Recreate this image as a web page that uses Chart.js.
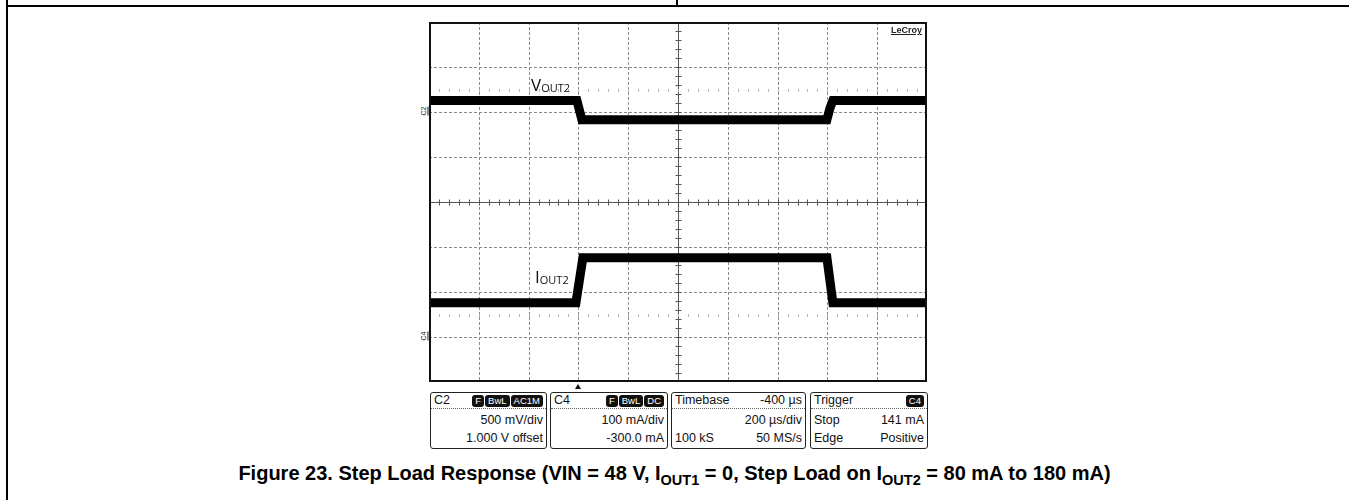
<!DOCTYPE html>
<html>
<head>
<meta charset="utf-8">
<script src="https://cdn.jsdelivr.net/npm/chart.js@4.4.0/dist/chart.umd.min.js"></script>
<style>
body{margin:0;background:#fff;font-family:"Liberation Sans",Arial,sans-serif;}
#page{position:relative;width:1349px;height:500px;overflow:hidden;}
.ln{position:absolute;background:#000;}
#scope{position:absolute;left:429px;top:22px;width:498px;height:360px;}
.lbl{position:absolute;font-family:"Open Sans","Liberation Sans",sans-serif;font-size:17px;color:#111;line-height:1;}
.lbl sub{font-size:11px;vertical-align:baseline;position:relative;top:1px;}
.box{position:absolute;top:392px;height:57px;border:1.5px solid #222;border-radius:3px;font-size:12.5px;color:#111;box-sizing:border-box;}
.row{display:flex;justify-content:space-between;padding:0 3px;height:18px;line-height:18px;}
.row.h{border-bottom:1px dotted #666;height:15px;line-height:15px;margin-bottom:2px;}
.bd{display:inline-block;background:#111;color:#fff;font-size:9.5px;line-height:12px;padding:0 3px;border-radius:3px;margin-left:1px;vertical-align:middle;}
#cap{position:absolute;left:0;width:1349px;top:462px;line-height:22px;text-align:center;font-weight:bold;font-size:20px;}
#cap sub{font-size:14.5px;}
</style>
</head>
<body>
<div id="page">
  <div class="ln" style="left:6px;top:0;width:2px;height:500px"></div>
  <div class="ln" style="left:6px;top:5px;width:1343px;height:2px"></div>
  <div class="ln" style="left:676px;top:0;width:2px;height:6px"></div>

  <div id="scope"><canvas id="c" width="498" height="360"></canvas></div>

  <div class="lbl" style="left:531px;top:76px">V<sub>OUT2</sub></div>
  <div class="lbl" style="left:535px;top:268px">I<sub>OUT2</sub></div>
  <div style="position:absolute;left:891px;top:25px;font-size:9px;font-weight:bold;text-decoration:underline;color:#222">LeCroy</div>

  <div class="box" style="left:430px;width:117px">
    <div class="row h"><span>C2</span><span><span class="bd">F</span><span class="bd">BwL</span><span class="bd">AC1M</span></span></div>
    <div class="row"><span></span><span>500 mV/div</span></div>
    <div class="row"><span></span><span>1.000 V offset</span></div>
  </div>
  <div class="box" style="left:550px;width:118px">
    <div class="row h"><span>C4</span><span><span class="bd">F</span><span class="bd">BwL</span><span class="bd">DC</span></span></div>
    <div class="row"><span></span><span>100 mA/div</span></div>
    <div class="row"><span></span><span>-300.0 mA</span></div>
  </div>
  <div class="box" style="left:671px;width:135px">
    <div class="row h"><span>Timebase</span><span>-400 µs</span></div>
    <div class="row"><span></span><span>200 µs/div</span></div>
    <div class="row"><span>100 kS</span><span>50 MS/s</span></div>
  </div>
  <div class="box" style="left:810px;width:118px">
    <div class="row h"><span>Trigger</span><span><span class="bd">C4</span></span></div>
    <div class="row"><span>Stop</span><span>141 mA</span></div>
    <div class="row"><span>Edge</span><span>Positive</span></div>
  </div>

  <div id="cap">Figure 23. Step Load Response (VIN = 48 V, I<sub>OUT1</sub> = 0, Step Load on I<sub>OUT2</sub> = 80 mA to 180 mA)</div>
</div>

<script>
// time axis in µs, 200 µs/div, trigger at 0
const xGridUs = [-600, -400, -200, 0, 200, 400, 600, 800, 1000, 1200, 1400]
// C2 axis in mV, 500 mV/div, 1.000 V offset
const yGridMv = [-3000, -2500, -2000, -1500, -1000, -500, 0, 500, 1000]
// C4 axis in mA, 100 mA/div, -300 mA offset
const iAxisMa = [-100, 700]

const voutTime = [-600, -6, 4, 14, 998, 1010, 1022, 1400]
const voutMv   = [128, 128, 20, -85, -85, 40, 128, 128]

const ioutTime = [-600, -10, 18, 998, 1022, 1400]
const ioutMa   = [76, 76, 176, 176, 76, 76]

// reference marks
const triggerUs = 0
const c2LevelMv = 0
const c4LevelMa = 0

const toPts = (xs, ys) => xs.map((x, i) => ({x: x, y: ys[i]}))

const scopeGrid = {
  id: 'scopeGrid',
  beforeDatasetsDraw(chart) {
    const {ctx, chartArea: a, scales: {x, y}} = chart
    ctx.save()
    ctx.strokeStyle = '#8a8a8a'
    ctx.lineWidth = 1
    ctx.setLineDash([3, 2])
    xGridUs.slice(1, -1).forEach(v => {
      const px = Math.round(x.getPixelForValue(v)) + 0.5
      ctx.beginPath(); ctx.moveTo(px, a.top); ctx.lineTo(px, a.bottom); ctx.stroke()
    })
    yGridMv.slice(1, -1).forEach(v => {
      const py = Math.round(y.getPixelForValue(v)) + 0.5
      ctx.beginPath(); ctx.moveTo(a.left, py); ctx.lineTo(a.right, py); ctx.stroke()
    })
    ctx.setLineDash([])
    // centre cross with minor ticks
    const cx = Math.round(x.getPixelForValue(400)) + 0.5
    const cy = Math.round(y.getPixelForValue(-1000)) + 0.5
    ctx.strokeStyle = '#555'
    ctx.beginPath(); ctx.moveTo(a.left, cy); ctx.lineTo(a.right, cy); ctx.stroke()
    ctx.beginPath(); ctx.moveTo(cx, a.top); ctx.lineTo(cx, a.bottom); ctx.stroke()
    for (let t = -600; t <= 1400; t += 40) {
      const px = Math.round(x.getPixelForValue(t)) + 0.5
      ctx.beginPath(); ctx.moveTo(px, cy - 3); ctx.lineTo(px, cy + 3); ctx.stroke()
    }
    for (let m = -3000; m <= 1000; m += 100) {
      const py = Math.round(y.getPixelForValue(m)) + 0.5
      ctx.beginPath(); ctx.moveTo(cx - 3, py); ctx.lineTo(cx + 3, py); ctx.stroke()
    }
    // faint tick rows
    ctx.strokeStyle = '#b5b5b5'
    ;[250, -2250].forEach(m => {
      const py = Math.round(y.getPixelForValue(m)) + 0.5
      for (let t = -600; t <= 1400; t += 40) {
        const px = Math.round(x.getPixelForValue(t)) + 0.5
        ctx.beginPath(); ctx.moveTo(px, py - 1.5); ctx.lineTo(px, py + 1.5); ctx.stroke()
      }
    })
    ctx.restore()
  },
  afterDraw(chart) {
    const {ctx, chartArea: a} = chart
    ctx.save()
    ctx.strokeStyle = '#111'
    ctx.lineWidth = 2
    ctx.strokeRect(a.left + 1, a.top + 1, a.right - a.left - 2, a.bottom - a.top - 2)
    ctx.restore()
  }
}

const chart = new Chart(document.getElementById('c'), {
  type: 'line',
  data: {
    datasets: [{
      data: toPts(voutTime, voutMv),
      yAxisID: 'y',
      borderColor: '#000',
      borderWidth: 9,
      borderCapStyle: 'butt',
      pointRadius: 0,
      tension: 0
    }, {
      data: toPts(ioutTime, ioutMa),
      yAxisID: 'yi',
      borderColor: '#000',
      borderWidth: 9,
      borderCapStyle: 'butt',
      pointRadius: 0,
      tension: 0
    }]
  },
  options: {
    responsive: false,
    animation: false,
    layout: {padding: 0},
    plugins: {legend: {display: false}, tooltip: {enabled: false}},
    scales: {
      x: {type: 'linear', min: xGridUs[0], max: xGridUs[xGridUs.length - 1], display: false},
      y: {min: yGridMv[0], max: yGridMv[yGridMv.length - 1], display: false},
      yi: {min: iAxisMa[0], max: iAxisMa[1], display: false}
    }
  },
  plugins: [scopeGrid]
})

// channel markers and trigger marker outside the graticule
const page = document.getElementById('page')
function marker(txt, py) {
  const d = document.createElement('div')
  d.style.cssText = 'position:absolute;left:420px;font-size:7px;line-height:7px;transform:rotate(-90deg);transform-origin:center;color:#222;border-bottom:1px solid #222'
  d.style.top = (22 + py - 5) + 'px'
  d.textContent = txt
  page.appendChild(d)
}
marker('C2', chart.scales.y.getPixelForValue(c2LevelMv))
marker('C4', chart.scales.yi.getPixelForValue(c4LevelMa))
const tri = document.createElement('div')
tri.style.cssText = 'position:absolute;width:0;height:0;border-left:3px solid transparent;border-right:3px solid transparent;border-bottom:5px solid #111'
tri.style.left = (429 + chart.scales.x.getPixelForValue(triggerUs) - 3) + 'px'
tri.style.top = '384px'
page.appendChild(tri)
</script>
</body>
</html>
